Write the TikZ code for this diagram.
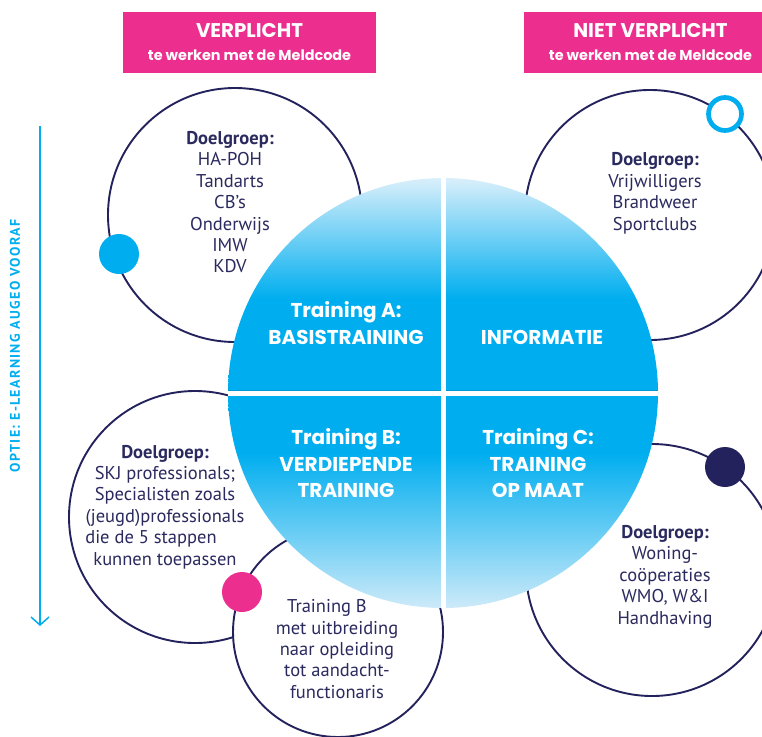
\documentclass[tikz,border=0pt]{standalone}
\usepackage{fontspec}
\setmainfont{PT Sans}
\newfontfamily\popfont{Poppins}
\newfontfamily\sidefont[LetterSpace=9.5]{PT Sans}
\usetikzlibrary{arrows.meta}
\definecolor{navy}{RGB}{36,34,92}
\definecolor{txtnavy}{RGB}{42,42,95}
\definecolor{pinkc}{RGB}{236,46,142}
\definecolor{cyanc}{RGB}{0,174,239}
\definecolor{cyand}{RGB}{0,150,215}
\definecolor{lightc}{RGB}{218,239,251}
\definecolor{lightb}{RGB}{205,234,249}
\pgfdeclareverticalshading{bigball}{100bp}{color(0bp)=(lightb); color(25bp)=(lightb); color(43bp)=(cyanc); color(61bp)=(cyanc); color(75bp)=(lightc); color(100bp)=(lightc)}
\tikzset{
  ringc/.style={circle, draw=navy, line width=1.9pt, fill=white, inner sep=0pt},
  dotc/.style={circle, inner sep=0pt, minimum size=40pt},
  hbox/.style={fill=pinkc, minimum width=253pt, minimum height=61pt, inner sep=0pt},
  htitle/.style={anchor=base, text=white, inner sep=0pt, font=\popfont\bfseries\fontsize{19.8}{22}\selectfont},
  hsub/.style={anchor=base, text=white, inner sep=0pt, font=\popfont\bfseries\fontsize{14.4}{16}\selectfont},
  qtext/.style={anchor=base, text=white, inner sep=0pt, align=center, font=\popfont\bfseries\fontsize{20}{26.7}\selectfont},
  dtext/.style={anchor=base, text=txtnavy, inner sep=0pt, align=center, font=\fontsize{18.5}{21.35}\selectfont},
}
\begin{document}
\begin{tikzpicture}[x=1pt,y=-1pt]
\useasboundingbox (0,0) rectangle (762,736);
% header boxes
\node[hbox] (h1) at (249.5,42.5) {};
\node[hbox] (h2) at (650.5,42.5) {};
\node[htitle] (h1t) at (249.5,37.5) {VERPLICHT};
\node[hsub] (h1s) at (249.5,60) {te werken met de Meldcode};
\node[htitle] (h2t) at (650.5,37.5) {NIET VERPLICHT};
\node[hsub] (h2s) at (650.5,60) {te werken met de Meldcode};
% side label and arrow
\node[rotate=90, text=cyanc, inner sep=0pt, font=\sidefont\bfseries\fontsize{14}{16}\selectfont] (side) at (15,346) {OPTIE: E-LEARNING AUGEO VOORAF};
\coordinate (as) at (40,126);
\coordinate (ae) at (40,626);
\draw[cyanc, line width=1.5pt, -{Straight Barb[length=8pt, width=18pt, line width=1.5pt]}] (as) -- (ae);
% outer circles
\node[ringc, minimum size=254pt] (c1) at (235,215) {};
\node[ringc, minimum size=250pt] (c2) at (650,215) {};
\node[ringc, minimum size=252pt] (c3) at (195,517) {};
\node[ringc, minimum size=210pt] (c4) at (338,632) {};
\node[ringc, minimum size=252pt] (c5) at (652,570) {};
% dots
\node[dotc, fill=cyanc] (d1) at (119,254) {};
\node[circle, draw=cyanc, line width=4.7pt, fill=white, inner sep=0pt, minimum size=33pt] (d2) at (725,114) {};
\node[dotc, fill=pinkc] (d3) at (242,592) {};
\node[dotc, fill=navy] (d4) at (725,467) {};
% texts in circles (base anchor = last line)
\node[dtext] (t1) at (230,272.7) {\textbf{Doelgroep:}\\HA-POH\\Tandarts\\CB’s\\Onderwijs\\IMW\\KDV};
\node[dtext] (t2) at (655,230) {\textbf{Doelgroep:}\\Vrijwilligers\\Brandweer\\Sportclubs};
\node[dtext] (t3) at (165,565) {\textbf{Doelgroep:}\\SKJ professionals;\\Specialisten zoals\\(jeugd)professionals\\die de 5 stappen\rule{28pt}{0pt}\\kunnen toepassen};
\node[dtext] (t4) at (337,698.3) {Training B\rule{20pt}{0pt}\\met uitbreiding\\naar opleiding\\tot aandacht-\\functionaris};
\node[dtext] (t5) at (665,624) {\textbf{Doelgroep:}\\Woning-\\coöperaties\\WMO, W\&I\\Handhaving};
% big circle
\node[circle, inner sep=0pt, minimum size=430pt, shading=bigball] (big) at (443,393) {};
\begin{scope}
\clip (big.center) circle[radius=215pt];
\draw[cyand, line width=1pt] ([yshift=2.5pt]big.west) -- ([yshift=2.5pt]big.east);
\end{scope}
\draw[white, line width=5pt] (big.north) -- (big.south);
\draw[white, line width=5pt] (big.west) -- (big.east);
\node[qtext] (qa) at (346,344) {Training A:\\BASISTRAINING};
\node[qtext] (qi) at (542,344) {INFORMATIE};
\node[qtext] (qb) at (346,497.7) {Training B:\\VERDIEPENDE\\TRAINING};
\node[qtext] (qc) at (538,497.7) {Training C:\\TRAINING\\OP MAAT};
\end{tikzpicture}
\end{document}
